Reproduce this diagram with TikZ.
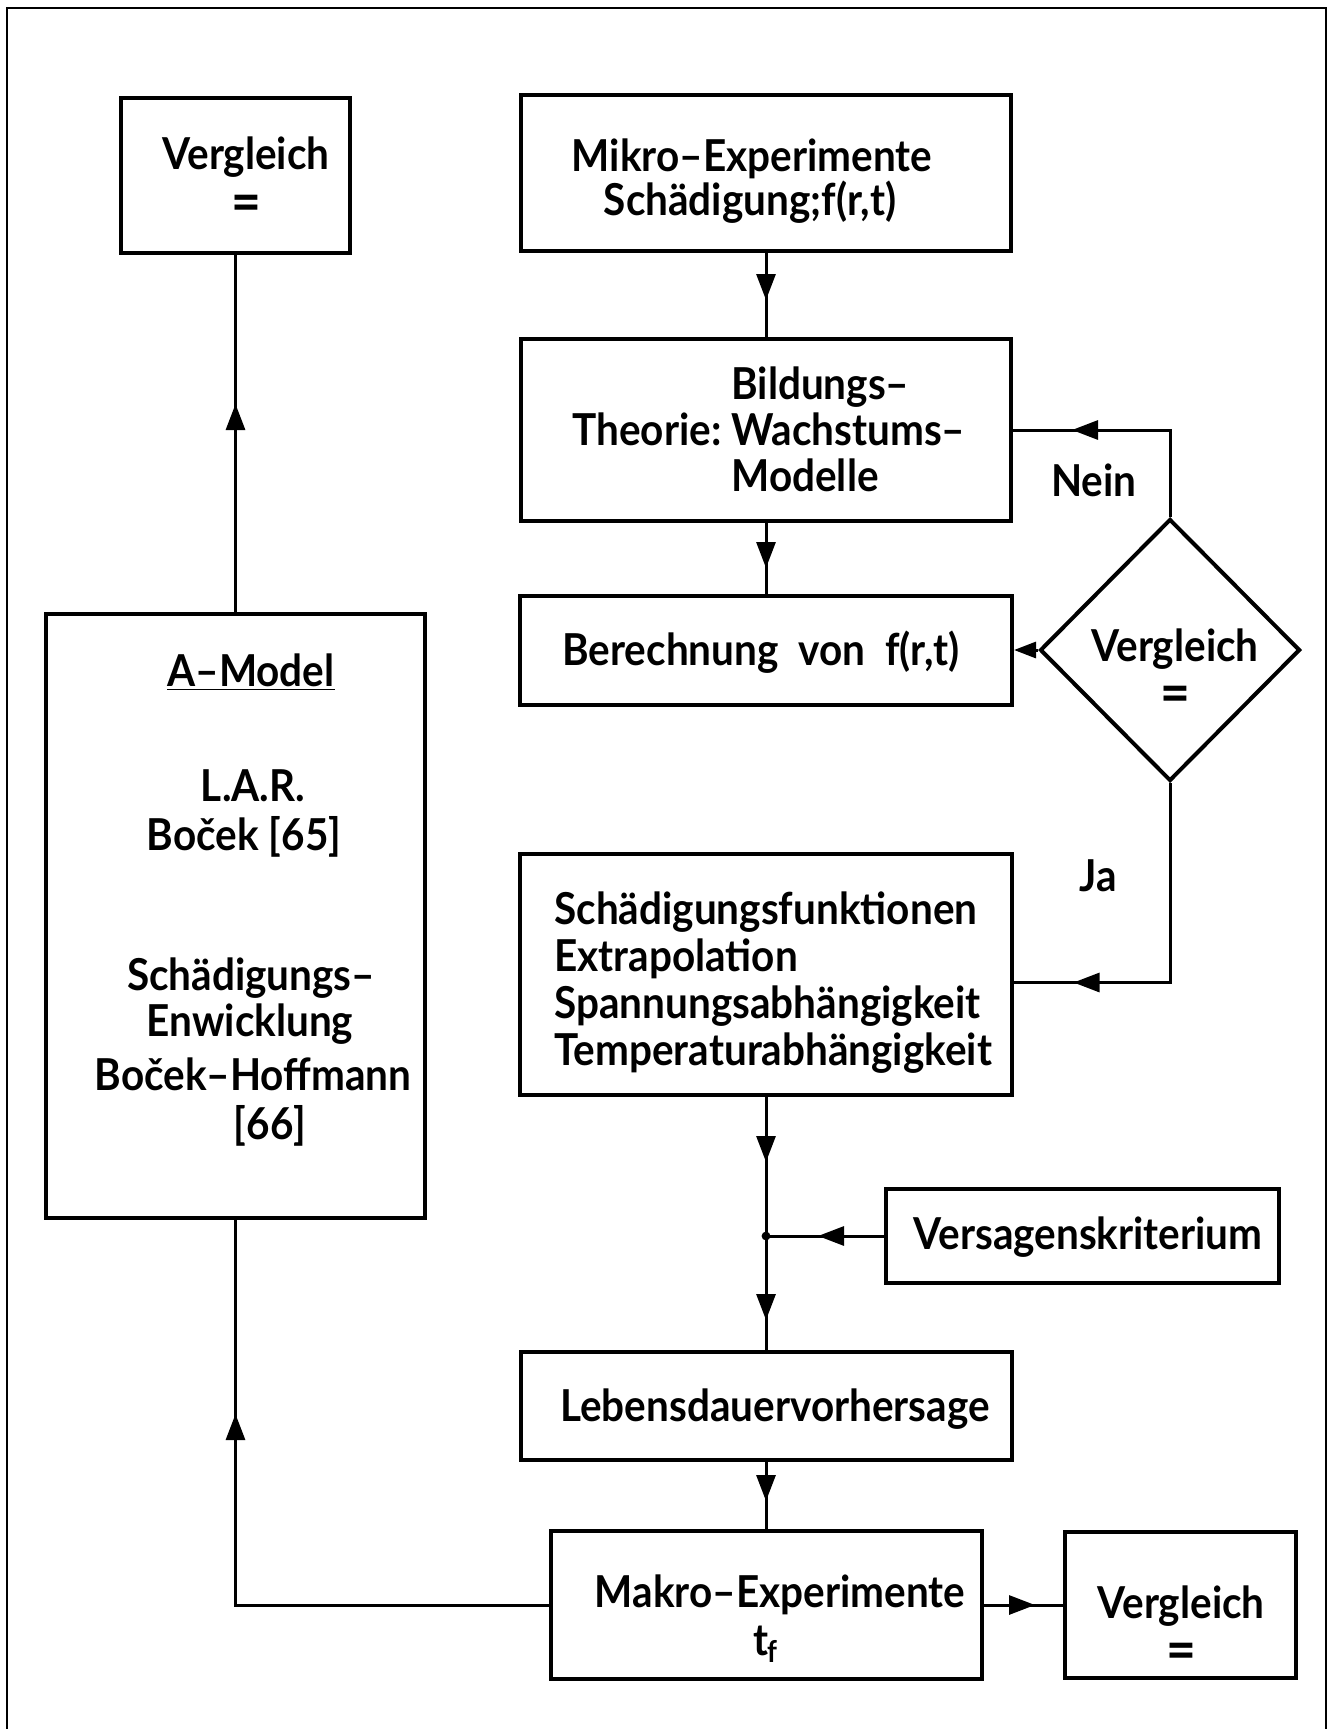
\documentclass[tikz,border=0pt]{standalone}
\usepackage{fontspec}
\setmainfont{Lato}[FakeStretch=0.92]
\usetikzlibrary{arrows.meta,shapes.geometric,decorations.markings}
\begin{document}
\begin{tikzpicture}[x=0.5pt,y=-0.5pt,
  box/.style={draw, line width=2pt, inner sep=0pt, rectangle},
  txt/.style={font=\fontsize{22}{26}\selectfont\bfseries, inner sep=0pt, anchor=base},
  eq/.style={font=\fontsize{28}{30}\selectfont\bfseries, inner sep=0pt, anchor=base},
  conn/.style={line width=1.5pt},
  tri/.tip={Triangle[length=13pt,width=9.5pt]},
  midarrow/.style={postaction={decorate}, decoration={markings, mark=at position #1 with {\arrow{tri}}}},
]
\useasboundingbox (0,0) rectangle (1331,1729);
% frame
\draw[line width=1.2pt] (7,1729) -- (7,8) -- (1326,8) -- (1326,1729);

% boxes
\node[box, minimum width=114.5pt, minimum height=77.5pt] (vgl1) at (235.5,175) {};
\node[box, minimum width=245pt, minimum height=78pt] (mikro) at (766,173) {};
\node[box, minimum width=245pt, minimum height=91pt] (bild) at (766,430) {};
\node[box, minimum width=246pt, minimum height=54.5pt] (ber) at (766,650) {};
\node[draw, line width=2pt, shape=diamond, inner sep=0pt, minimum width=130pt, minimum height=131pt] (dia) at (1170,650) {};
\node[box, minimum width=189.5pt, minimum height=302pt] (adm) at (235.5,916) {};
\node[box, minimum width=246pt, minimum height=120.5pt] (sch) at (766,974.5) {};
\node[box, minimum width=196.5pt, minimum height=47pt] (vers) at (1082.5,1236) {};
\coordinate (j) at (766,1236);
\node[box, minimum width=245.5pt, minimum height=54pt] (leb) at (766,1406) {};
\node[box, minimum width=215.5pt, minimum height=74pt] (mak) at (766,1605) {};
\node[box, minimum width=115.5pt, minimum height=73pt] (vgl2) at (1180.5,1605) {};

% texts
\node[txt] (vgl1a) at (246,169) {Vergleich};
\node[eq] (vgl1b) at (246,221) {=};
\node[txt] (mikroa) at (752,171) {Mikro–Experimente};
\node[txt] (mikrob) at (750,215) {Schädigung;f(r,t)};
\node[txt, anchor=base west] (bildl) at (572,445) {Theorie:};
\node[txt, anchor=base west] (bilda) at (731,399) {Bildungs–};
\node[txt, anchor=base west] (bildb) at (731,445) {Wachstums–};
\node[txt, anchor=base west] (bildc) at (731,491) {Modelle};
\node[txt] (bert) at (761,665) {Berechnung\hspace{0.45em}von\hspace{0.45em}f(r,t)};
\node[txt] (diaa) at (1175,661) {Vergleich};
\node[eq] (diab) at (1175,712) {=};
\node[txt] (adma) at (251,686) {\underline{A–Model}};
\node[txt] (admb) at (253,801) {L.A.R.};
\node[txt] (admc) at (244,850) {Boček [65]};
\node[txt] (admd) at (251,990) {Schädigungs–};
\node[txt] (adme) at (250,1036) {Enwicklung};
\node[txt] (admf) at (253,1090) {Boček–Hoffmann};
\node[txt] (admg) at (270,1139) {[66]};
\node[txt, anchor=base west] (scha) at (554,924) {Schädigungsfunktionen};
\node[txt, anchor=base west] (schb) at (554,971) {Extrapolation};
\node[txt, anchor=base west] (schc) at (554,1018) {Spannungsabhängigkeit};
\node[txt, anchor=base west] (schd) at (554,1065) {Temperaturabhängigkeit};
\node[txt] (verst) at (1088,1249) {Versagenskriterium};
\node[txt] (lebt) at (775,1421) {Lebensdauervorhersage};
\node[txt] (maka) at (780,1607) {Makro–Experimente};
\node[txt] (makb) at (765,1655) {t\kern-0.5pt\raisebox{-0.35ex}{\fontsize{15}{16}\selectfont f}};
\node[txt] (vgl2a) at (1181,1618) {Vergleich};
\node[eq] (vgl2b) at (1181,1669) {=};
\node[txt] (nein) at (1094,496) {Nein};
\node[txt] (ja) at (1098,891) {Ja};

% connectors
\draw[conn, midarrow=23.5pt] (mikro.south) -- (bild.north);
\draw[conn, midarrow=22.5pt] (bild.south) -- (ber.north);
\draw[conn, midarrow=92.5pt] (dia.north) |- (bild.east);
\draw[conn, -{Triangle[length=11pt,width=8pt]}] (dia.west) -- (ber.east);
\draw[conn, midarrow=148pt] (dia.south) |- ([yshift=-4pt]sch.east);
\draw[conn, midarrow=32.5pt] (sch.south) -- (j);
\draw[conn, midarrow=33pt] (vers.west) -- (j);
\draw[conn, midarrow=42pt] (j) -- (leb.north);
\fill (j) circle[radius=2.2pt];
\draw[conn, midarrow=19.5pt] (leb.south) -- (mak.north);
\draw[conn, midarrow=25.75pt] (mak.east) -- (vgl2.west);
\draw[conn, midarrow=252pt] (mak.west) -| (adm.south);
\draw[conn, midarrow=104pt] (adm.north) -- (vgl1.south);
\end{tikzpicture}
\end{document}
